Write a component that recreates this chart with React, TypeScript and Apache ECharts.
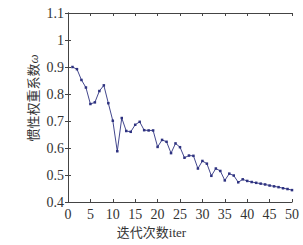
import React, { useEffect, useRef } from "react";
import * as echarts from "echarts";

const iterations = [1,2,3,4,5,6,7,8,9,10,11,12,13,14,15,16,17,18,19,20,21,22,23,24,25,26,27,28,29,30,31,32,33,34,35,36,37,38,39,40,41,42,43,44,45,46,47,48,49,50];
const weights = [0.900,0.892,0.852,0.824,0.763,0.769,0.811,0.832,0.766,0.701,0.588,0.711,0.663,0.660,0.686,0.697,0.666,0.665,0.665,0.604,0.630,0.623,0.581,0.617,0.603,0.564,0.572,0.571,0.524,0.552,0.542,0.497,0.524,0.515,0.480,0.505,0.498,0.473,0.484,0.478,0.474,0.471,0.468,0.465,0.461,0.458,0.455,0.451,0.448,0.444];
const xLabel = "迭代次数iter";
const yLabel = "惯性权重系数";

export default function App() {
  const ref = useRef<HTMLDivElement>(null);
  useEffect(() => {
    if (!ref.current) return;
    const chart = echarts.init(ref.current, null, { renderer: "svg" });
    const font = "'Liberation Serif', 'Noto Sans CJK SC', serif";
    const axisCommon = {
      axisLine: { show: true, lineStyle: { color: "#444", width: 1 } },
      axisTick: { show: true, inside: true, length: 3, lineStyle: { color: "#444" } },
      splitLine: { show: false },
    };
    chart.setOption({
      animation: false,
      backgroundColor: "#fff",
      grid: { left: 68, right: 11, top: 13, bottom: 43, containLabel: false },
      xAxis: [
        {
          type: "value", min: 0, max: 50, interval: 5,
          ...axisCommon,
          axisLabel: { color: "#333", fontSize: 14, fontFamily: font, margin: 5 },
        },
        {
          type: "value", position: "top", min: 0, max: 50, interval: 5,
          ...axisCommon, axisLabel: { show: false },
        },
      ],
      yAxis: [
        {
          type: "value", min: 0.4, max: 1.1, interval: 0.1,
          ...axisCommon,
          axisLabel: {
            color: "#333", fontSize: 14, fontFamily: font, margin: 4,
            formatter: (v: number) => String(Math.round(v * 10) / 10),
          },
        },
        {
          type: "value", position: "right", min: 0.4, max: 1.1, interval: 0.1,
          ...axisCommon, axisLabel: { show: false },
        },
      ],
      graphic: [
        {
          type: "text", left: "center", top: 226,
          style: { text: xLabel, fill: "#333", font: `13px ${font}` },
        },
        {
          type: "text",
          x: 33, y: 98, rotation: Math.PI / 2,
          style: {
            text: `{a|${yLabel}}{b|ω}`,
            fill: "#333", align: "center", verticalAlign: "middle",
            rich: {
              a: { fontSize: 13, fontFamily: font, fill: "#333" },
              b: { fontSize: 13, fontFamily: font, fontStyle: "italic", fill: "#333" },
            },
          },
        },
      ],
      series: [
        {
          type: "line",
          data: iterations.map((x, i) => [x, weights[i]]),
          symbol: "rect", symbolSize: 2.5,
          lineStyle: { color: "#2e3280", width: 0.9 },
          itemStyle: { color: "#2e3280" },
        },
      ],
    });
    return () => chart.dispose();
  }, []);
  return <div ref={ref} style={{ width: 303, height: 245, position: "absolute", left: 0, top: 0 }} />;
}
